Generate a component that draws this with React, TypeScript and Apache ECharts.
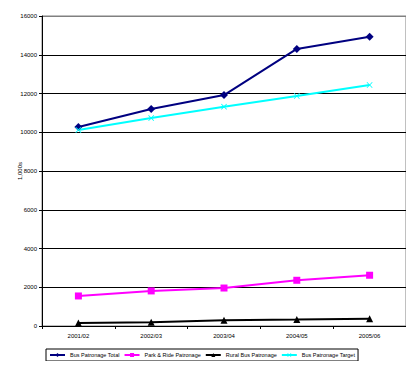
import React, { useEffect, useRef } from "react";
import * as echarts from "echarts";

const categories = ["2001/02", "2002/03", "2003/04", "2004/05", "2005/06"];
const busTotal = [10270, 11200, 11920, 14300, 14930];
const parkRide = [1550, 1810, 1960, 2360, 2620];
const ruralBus = [160, 190, 300, 330, 380];
const busTarget = [10120, 10730, 11320, 11870, 12440];
const seriesNames = [
  "Bus Patronage Total",
  "Park & Ride Patronage",
  "Rural Bus Patronage",
  "Bus Patronage Target",
];

const FONT = "'Liberation Sans', Arial, sans-serif";
const crossPath =
  "path://M0,1L1,0L5,4L9,0L10,1L6,5L10,9L9,10L5,6L1,10L0,9L4,5Z";

export default function App() {
  const ref = useRef<HTMLDivElement>(null);
  useEffect(() => {
    if (!ref.current) return;
    const chart = echarts.init(ref.current, undefined, { renderer: "svg" });
    const splitColors = [
      "#000", "#000", "#000", "#000", "#000", "#000", "#000", "#000", "#808080",
    ];
    chart.setOption({
      animation: false,
      backgroundColor: "#fff",
      textStyle: { fontFamily: FONT },
      grid: {
        left: 42,
        right: 8,
        top: 16,
        bottom: 43,
        show: true,
        borderColor: "#808080",
        borderWidth: 1,
        containLabel: false,
      },
      legend: {
        data: seriesNames,
        left: 46,
        top: 349,
        orient: "horizontal",
        borderColor: "#000",
        borderWidth: 1,
        padding: [3, 3],
        itemGap: 4,
        itemWidth: 15,
        itemHeight: 5,
        textStyle: { fontSize: 5.5, color: "#000", fontFamily: FONT },
      },
      xAxis: {
        type: "category",
        data: categories,
        boundaryGap: true,
        axisLine: { show: true, lineStyle: { color: "#000", width: 1 } },
        axisTick: {
          show: true,
          inside: false,
          length: 3,
          alignWithLabel: false,
          lineStyle: { color: "#000" },
        },
        axisLabel: { fontSize: 6, color: "#000", margin: 7, fontFamily: FONT },
        splitLine: { show: false },
      },
      yAxis: {
        type: "value",
        min: 0,
        max: 16000,
        interval: 2000,
        name: "1,000s",
        nameLocation: "middle",
        nameGap: 19,
        nameMoveOverlap: false,
        nameRotate: 90,
        nameTextStyle: { fontSize: 6, color: "#000", fontFamily: FONT },
        axisLine: { show: true, lineStyle: { color: "#000", width: 1 } },
        axisTick: { show: true, length: 3, lineStyle: { color: "#000" } },
        axisLabel: {
          fontSize: 6,
          color: "#000",
          margin: 5,
          fontFamily: FONT,
          formatter: (v: number) => String(v),
        },
        splitLine: {
          show: true,
          lineStyle: { color: splitColors, width: 1 },
        },
      },
      series: [
        {
          name: seriesNames[0],
          type: "line",
          data: busTotal,
          symbol: "diamond",
          symbolSize: 8,
          lineStyle: { color: "#000080", width: 2 },
          itemStyle: { color: "#000080" },
        },
        {
          name: seriesNames[1],
          type: "line",
          data: parkRide,
          symbol: "rect",
          symbolSize: 7,
          lineStyle: { color: "#FF00FF", width: 2 },
          itemStyle: { color: "#FF00FF" },
        },
        {
          name: seriesNames[2],
          type: "line",
          data: ruralBus,
          symbol: "triangle",
          symbolSize: 7,
          lineStyle: { color: "#000000", width: 2 },
          itemStyle: { color: "#000000" },
        },
        {
          name: seriesNames[3],
          type: "line",
          data: busTarget,
          symbol: crossPath,
          symbolSize: 6,
          lineStyle: { color: "#00FFFF", width: 2 },
          itemStyle: { color: "#00FFFF" },
        },
      ],
    });
    return () => chart.dispose();
  }, []);
  return <div ref={ref} style={{ width: 414, height: 369, margin: -8 }} />;
}
